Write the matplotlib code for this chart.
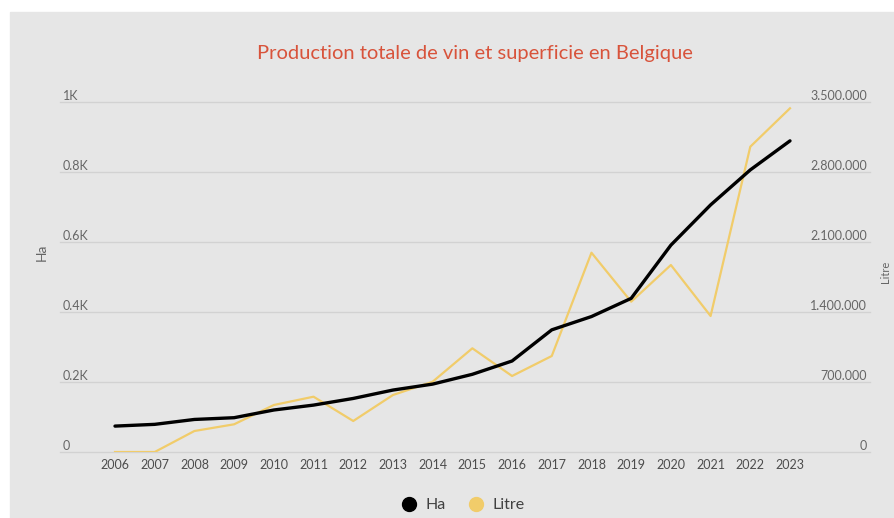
import matplotlib
matplotlib.use("Agg")
import matplotlib.pyplot as plt
from matplotlib.lines import Line2D
from matplotlib.patches import Rectangle
from matplotlib.ticker import FuncFormatter

plt.rcParams["font.family"] = ["Lato", "DejaVu Sans"]

# ---- Data ----
YEARS = list(range(2006, 2024))
HA = [74, 79, 93, 98, 120, 134, 153, 177, 194, 222,
      260, 349, 387, 439, 591, 706, 806, 889]
LITRE = [0, 0, 210000, 277000, 470000, 553000, 310000, 570000, 703000, 1037000,
         760000, 960000, 1993000, 1503000, 1870000, 1360000, 3053000, 3437000]
HA_TICKS = [0, 200, 400, 600, 800, 1000]
HA_TICK_LABELS = ["0", "0.2K", "0.4K", "0.6K", "0.8K", "1K"]
LITRE_TICKS = [0, 700000, 1400000, 2100000, 2800000, 3500000]

BG = "#e6e6e6"
GRID = "#d2d2d2"
TXT = "#666666"
BLACK = "#000000"
YELLOW = "#f1cc6a"
TITLE = "#d8533b"

W, H = 894, 518
fig = plt.figure(figsize=(W / 100, H / 100), dpi=100, facecolor="white")
fig.patches.append(Rectangle((10 / W, 0), 1 - 10 / W, 1 - 12 / H,
                             transform=fig.transFigure, color=BG, zorder=-5))

left, right, top, bottom = 60, 870, 102, 452
ax = fig.add_axes([left / W, 1 - bottom / H, (right - left) / W, (bottom - top) / H])
ax.set_facecolor("none")
ax2 = ax.twinx()
ax2.set_facecolor("none")

# x range so 2006 sits at ~115px and 2023 at ~790px
px_per_year = (790 - 115) / 17
ax.set_xlim(2006 - (115 - left) / px_per_year, 2023 + (right - 790) / px_per_year)

ax.plot(YEARS, HA, color=BLACK, lw=2.4, zorder=4, solid_capstyle="round")
ax2.plot(YEARS, LITRE, color=YELLOW, lw=1.6, zorder=3)
ax.set_zorder(ax2.get_zorder() + 1)

ax.set_ylim(0, 1000)
ax2.set_ylim(0, 3500000)
ax.set_yticks(HA_TICKS)
ax.set_yticklabels(HA_TICK_LABELS)
ax2.set_yticks(LITRE_TICKS)
ax2.yaxis.set_major_formatter(FuncFormatter(lambda v, p: f"{int(v):,}".replace(",", ".")))
ax.set_xticks(YEARS)
ax.set_xticklabels([str(y) for y in YEARS])

for a in (ax, ax2):
    for s in a.spines.values():
        s.set_visible(False)

ax2.grid(axis="y", color=GRID, lw=1, zorder=0, clip_on=False)
ax2.set_axisbelow(True)
ax.tick_params(axis="x", length=0, pad=5, labelsize=9, labelcolor="#4d4d4d")
ax.tick_params(axis="y", length=0, pad=-2, labelsize=9, labelcolor=TXT)
for lab in ax.get_yticklabels():
    lab.set_horizontalalignment("left")
    lab.set_verticalalignment("bottom")
ax2.tick_params(axis="y", length=0, pad=-2, labelsize=9, labelcolor=TXT)
for lab in ax2.get_yticklabels():
    lab.set_horizontalalignment("right")
    lab.set_verticalalignment("bottom")

fig.text(42 / W, 1 - 252 / H, "Ha", rotation=90, ha="center", va="center",
         fontsize=10, color=TXT)
fig.text(886 / W, 1 - 272 / H, "Litre", rotation=90, ha="center", va="center",
         fontsize=8, color=TXT)

fig.text(475 / W, 1 - 53 / H, "Production totale de vin et superficie en Belgique",
         ha="center", va="center", fontsize=14.5, color=TITLE)

handles = [Line2D([], [], ls="none", marker="o", ms=10, color=BLACK),
           Line2D([], [], ls="none", marker="o", ms=10, color=YELLOW)]
fig.legend(handles, ["Ha", "Litre"], loc="center", bbox_to_anchor=(462 / W, 1 - 505 / H),
           ncol=2, frameon=False, fontsize=11.5, labelcolor="#404040",
           handletextpad=0.4, columnspacing=1.3, handlelength=1.2)

fig.savefig("out.png", dpi=100, facecolor="white")
